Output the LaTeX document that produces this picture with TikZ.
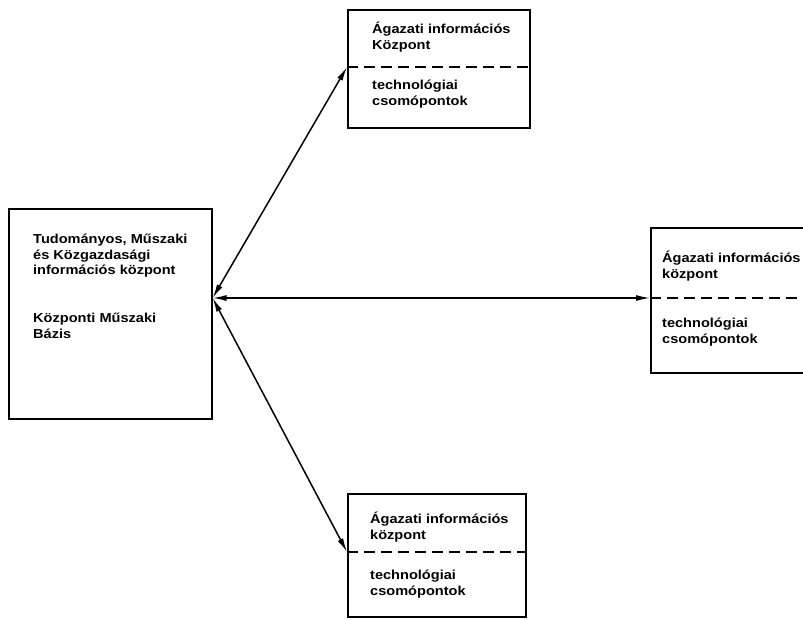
\documentclass[tikz,border=0pt]{standalone}
\usepackage{fontspec}
\setmainfont{Liberation Sans}
\newfontfamily\boxfont[FakeStretch=1.12]{Liberation Sans}
\usetikzlibrary{arrows.meta,positioning,calc}

\begin{document}
\begin{tikzpicture}[x=1pt, y=-1pt,
  box/.style={draw, line width=1.6pt, rectangle, anchor=north west,
              minimum width=#1, inner sep=0pt},
  txt/.style={anchor=north west, inner sep=0pt, align=left,
              font=\boxfont\fontsize{13}{15.5}\selectfont\bfseries},
  divider/.style={line width=1.4pt, dash pattern=on 11pt off 6pt},
  link/.style={line width=1.5pt, {Latex[length=14pt,width=6pt]}-{Latex[length=14pt,width=6pt]}}
]
  \useasboundingbox (0,0) rectangle (803,619);

  % Boxes
  \node[box=203pt, minimum height=210pt] (tmk)  at (8,208)   {};
  \node[box=182pt, minimum height=118pt] (agk1) at (347,9)   {};
  \node[box=165pt, minimum height=145pt] (agk2) at (650,227) {};
  \node[box=178pt, minimum height=123pt] (agk3) at (347,493) {};

  % Dividers
  \coordinate (d1) at (agk1.west |- 0,67);
  \coordinate (d2) at (agk2.west |- 0,298);
  \coordinate (d3) at (agk3.west |- 0,552);
  \draw[divider] (d1) -- (d1 -| agk1.east);
  \draw[divider] (d2) -- (d2 -| agk2.east);
  \draw[divider] (d3) -- (d3 -| agk3.east);

  % Labels
  \node[txt] (t0) at (33,234)  {Tudományos, Műszaki\\és Közgazdasági\\információs központ};
  \node[txt] (t1) at (33,313)  {Központi Műszaki\\Bázis};
  \node[txt] (a1) at (372,22)  {Ágazati információs\\Központ};
  \node[txt] (b1) at (372,80)  {technológiai\\csomópontok};
  \node[txt] (a2) at (662,251) {Ágazati információs\\központ};
  \node[txt] (b2) at (662,318) {technológiai\\csomópontok};
  \node[txt] (a3) at (370,512) {Ágazati információs\\központ};
  \node[txt] (b3) at (370,570) {technológiai\\csomópontok};

  % Links
  \coordinate (hub) at (tmk.east |- d2);
  \draw[link] (hub) -- (d1);
  \draw[link] (hub) -- (d2);
  \draw[link] (hub) -- (d3);
\end{tikzpicture}
\end{document}
